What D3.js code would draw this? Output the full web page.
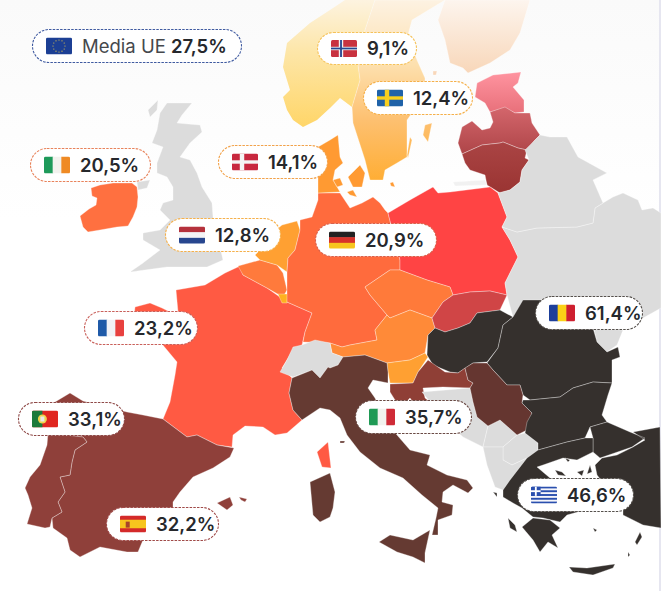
<!DOCTYPE html>
<html>
<head>
<meta charset="utf-8">
<script src="https://cdnjs.cloudflare.com/ajax/libs/d3/7.8.5/d3.min.js"></script>
<style>
  html, body { margin: 0; padding: 0; background: #fff; }
  svg { display: block; }
  text { font-family: Inter, "Noto Sans", sans-serif; }
</style>
</head>
<body>
<div id="map"></div>
<script>
// values, % per country
const countryNames = ["Norway", "Sweden", "Denmark", "Ireland", "Netherlands", "Germany", "France", "Portugal", "Spain", "Italy", "Romania", "Greece"];
const countryValues = [9.1, 12.4, 14.1, 20.5, 12.8, 20.9, 23.2, 33.1, 32.2, 35.7, 61.4, 46.6];
const euLabel = "Media UE";
const euValue = 27.5;
// countries with a colour but no badge
const otherNames = ["Finland", "Estonia", "Latvia", "Lithuania", "Poland", "Belgium", "Luxembourg", "Czechia", "Austria", "Slovenia", "Slovakia", "Hungary", "Croatia", "Serbia", "Bulgaria", "Turkey"];
const otherColors = ["url(#gradFinland)", "url(#gradEstonia)", "url(#gradLatvia)", "url(#gradLithuania)", "#ff4444", "#ff7a3c", "#ffb120", "#ff7a3a", "#ff8a38", "#ffa032", "#d04546", "#35302d", "#8f3f36", "#653630", "#35302d", "#35302d"];
const countryColors = ["url(#gradNorway)", "url(#gradSweden)", "#ff9a32", "#ff7040", "#ffa032", "#ff6b3d", "#ff5a43", "#8f403a", "#8f403a", "#653a32", "#35302d", "#35302d"];
const grayNames = ["UK", "Balkans", "Kosovo", "Macedonia", "Albania", "Switzerland", "Belarus", "Ukraine", "Moldova", "Kaliningrad"];

// outlines in map units (multi part countries have several rings)
const outlines = {
  UK: [[[167,103],[192,103],[182,115],[177,123],[200,125],[202,132],[190,143],[180,157],[190,160],[197,173],[202,187],[212,203],[213,217],[223,260],[207,267],[167,267],[130,272],[143,263],[160,250],[143,240],[143,233],[160,230],[170,220],[160,210],[163,203],[173,200],[173,187],[167,177],[157,173],[157,163],[163,147],[152,143],[157,130],[160,113]],
       [[137,182],[150,180],[147,188],[138,190]], [[148,110],[158,100],[157,110],[150,117]]],
  Ireland: [[[91,188],[100,185],[113,183],[132,183],[137,187],[138,197],[137,207],[133,217],[128,226],[117,227],[100,230],[88,232],[83,227],[80,216],[89,209],[96,205],[97,198],[92,196]]],
  France: [[[135,307],[150,303],[162,308],[170,312],[178,312],[176,290],[205,285],[225,273],[240,266],[243,275],[267,288],[287,302],[312,313],[305,332],[302,345],[293,350],[282,368],[292,378],[289,393],[293,410],[302,420],[287,433],[275,435],[263,427],[245,426],[233,435],[232,447],[217,445],[197,435],[187,437],[163,419],[170,402],[175,375],[177,362],[167,350],[157,338],[133,328]],
           [[317,452],[328,442],[331,468],[322,467]]],
  Spain: [[[50,405],[70,393],[83,401],[127,412],[143,415],[163,419],[187,437],[197,435],[217,445],[234,448],[230,457],[213,468],[193,477],[180,492],[173,502],[173,520],[143,540],[138,552],[127,552],[100,547],[80,557],[70,550],[67,538],[53,528],[52,518],[62,512],[58,502],[65,492],[60,477],[70,475],[72,462],[75,450],[87,442],[83,437],[48,435]],
          [[217,503],[230,497],[233,505],[227,510]], [[239,497],[247,499],[245,502],[241,500]]],
  Portugal: [[[48,433],[83,437],[87,442],[75,450],[72,462],[70,475],[60,477],[65,492],[58,502],[62,512],[52,518],[50,527],[45,528],[27,524],[32,508],[28,495],[25,488],[30,477],[40,465],[47,445]]],
  Belgium: [[[238,266],[260,260],[277,265],[283,273],[287,290],[283,297],[267,288],[243,275]]],
  Luxembourg: [[[278,294],[288,294],[287,303],[282,303]]],
  Netherlands: [[[282,225],[297,221],[300,230],[295,250],[288,258],[287,272],[277,265],[260,260],[255,255],[265,245],[270,235]]],
  Germany: [[[300,220],[312,217],[318,200],[318,193],[340,193],[350,208],[362,203],[373,197],[380,203],[385,210],[388,213],[400,260],[400,270],[390,270],[365,287],[370,295],[387,315],[375,330],[377,340],[350,345],[342,347],[330,343],[303,342],[305,332],[312,313],[287,302],[287,272],[288,258],[295,250],[300,230]]],
  Denmark: [[[318,147],[330,140],[338,135],[340,157],[343,163],[335,170],[333,180],[340,192],[318,193]],
            [[348,177],[360,165],[365,173],[362,187],[353,187]], [[333,180],[340,178],[343,185],[337,187]], [[347,192],[353,190],[357,197],[350,195]], [[390,183],[393,182],[395,187],[391,186]]],
  Norway: [[[345,0],[330,10],[310,23],[287,43],[283,67],[290,90],[283,97],[287,110],[293,120],[303,127],[317,120],[330,108],[340,98],[352,107],[360,80],[358,65],[365,30],[375,0]]],
  Sweden: [[[375,0],[365,30],[358,65],[360,80],[352,107],[353,123],[365,160],[370,180],[383,180],[385,170],[397,163],[407,157],[407,120],[425,95],[425,78],[417,60],[408,35],[412,20],[445,0]],
           [[425,125],[432,123],[428,142],[423,135]], [[410,137],[412,140],[408,158],[407,155]]],
  Finland: [[[530,0],[520,33],[510,50],[490,63],[468,73],[463,68],[450,63],[445,40],[438,20],[445,0]], [[433,71],[437,71],[436,75],[433,75]]],
  Estonia: [[[477,83],[493,75],[521,72],[518,83],[513,87],[524,100],[524,112],[515,113],[505,108],[490,112],[485,103],[475,97]]],
  Latvia: [[[490,112],[505,107],[515,113],[530,113],[532,123],[540,135],[535,140],[527,150],[518,148],[503,142],[500,143],[482,145],[462,154],[458,143],[462,127],[472,121],[482,130],[490,128],[493,122]]],
  Lithuania: [[[462,154],[482,145],[500,143],[503,142],[518,148],[527,150],[525,158],[529,160],[522,170],[520,182],[510,190],[500,193],[487,185],[485,175],[470,170],[465,163]]],
  Kaliningrad: [[[453,182],[485,180],[487,185],[455,186]]],
  Poland: [[[388,213],[410,200],[433,187],[438,193],[450,192],[490,187],[498,193],[507,217],[502,227],[510,240],[518,257],[505,283],[507,295],[490,291],[470,292],[453,295],[450,287],[427,280],[400,270],[400,260]]],
  Czechia: [[[365,287],[390,270],[400,270],[427,280],[450,287],[453,295],[443,302],[432,318],[410,310],[390,318],[387,315],[370,295]]],
  Austria: [[[390,318],[410,310],[432,318],[435,328],[428,335],[425,353],[410,360],[387,363],[365,355],[343,357],[332,353],[330,343],[342,347],[350,345],[377,340],[375,330],[387,315]]],
  Slovenia: [[[387,363],[410,360],[425,353],[428,357],[418,372],[413,383],[398,383],[390,383],[388,372]]],
  Slovakia: [[[432,318],[443,302],[453,295],[470,292],[490,291],[507,295],[500,310],[477,313],[470,323],[458,328],[445,332],[435,328]]],
  Hungary: [[[435,328],[445,332],[458,328],[470,323],[477,313],[500,310],[513,317],[503,325],[498,348],[487,362],[473,363],[458,373],[450,372],[433,365],[427,355],[428,335]]],
  Moldova: [[[593,325],[623,330],[617,345],[607,352],[597,342]]],
  Ukraine: [[[517,232],[537,228],[577,227],[593,223],[595,208],[603,203],[613,197],[623,193],[638,200],[642,210],[653,208],[661,213],[661,308],[643,318],[623,330],[593,328],[523,315],[513,317],[507,295],[505,283],[518,257],[510,240],[502,227]]],
  Romania: [[[513,317],[523,300],[593,300],[593,328],[597,342],[607,352],[618,347],[620,357],[612,360],[612,383],[593,382],[573,388],[560,397],[530,400],[523,395],[520,385],[507,385],[493,370],[487,363],[498,348],[503,325]]],
  Belarus: [[[529,160],[525,150],[540,135],[550,137],[567,137],[578,157],[607,173],[593,180],[603,203],[595,208],[593,223],[577,227],[537,228],[517,232],[502,227],[507,217],[498,193],[510,190],[520,182],[522,170]]],
  Switzerland: [[[280,372],[287,360],[293,347],[302,345],[315,340],[330,343],[332,353],[343,357],[338,365],[330,368],[328,367],[320,378],[312,370],[293,377]]],
  Italy: [[[292,378],[312,370],[320,378],[328,367],[330,368],[338,365],[343,357],[365,355],[387,363],[388,372],[388,383],[373,380],[368,388],[375,398],[385,420],[397,435],[410,450],[430,455],[427,465],[447,475],[467,480],[473,488],[468,493],[453,485],[443,492],[442,502],[453,505],[452,515],[438,520],[438,535],[432,535],[436,518],[438,508],[422,495],[403,478],[380,468],[360,452],[347,435],[340,418],[330,410],[320,408],[302,420],[293,410],[289,393]],
          [[379,542],[390,535],[413,540],[430,530],[425,553],[425,563],[413,557],[397,552]],
          [[310,482],[330,473],[335,492],[333,508],[330,517],[320,522],[313,515]],
          [[340,441],[345,441],[344,443],[340,443]]],
  Croatia: [[[390,384],[413,383],[418,372],[428,360],[445,372],[458,373],[465,368],[468,380],[473,383],[470,388],[443,387],[423,388],[425,398],[440,410],[468,437],[455,432],[430,415],[415,405],[410,398],[403,405],[395,400],[390,392]]],
  Balkans: [[[422,392],[470,388],[473,402],[477,417],[488,426],[483,447],[463,437],[445,420]]],
  Kosovo: [[[488,426],[500,420],[517,435],[503,447],[483,447]]],
  Macedonia: [[[503,447],[517,435],[525,433],[538,443],[538,450],[527,458],[512,465],[503,460]]],
  Albania: [[[483,447],[503,447],[503,460],[512,465],[527,458],[510,480],[503,490],[495,487],[487,465]]],
  Serbia: [[[465,368],[473,363],[487,363],[493,370],[507,385],[520,385],[523,395],[522,403],[532,413],[527,430],[517,435],[500,420],[488,426],[477,417],[473,402],[470,388],[473,383],[468,380]]],
  Bulgaria: [[[523,400],[530,400],[560,397],[573,388],[593,382],[612,383],[608,395],[602,415],[607,422],[590,427],[585,438],[567,442],[538,450],[538,443],[525,433],[527,422],[532,413],[522,403]]],
  Turkey: [[[607,422],[630,432],[645,438],[632,447],[600,458],[593,452],[593,438],[590,427]],
           [[633,432],[660,427],[661,528],[643,525],[623,515],[623,508],[597,475],[595,465],[602,458],[617,455],[633,447],[645,440]]],
  Greece: [[[527,458],[538,450],[567,442],[585,438],[593,438],[593,452],[577,460],[563,458],[543,465],[537,467],[550,478],[590,490],[585,510],[567,515],[560,522],[543,518],[533,517],[522,508],[513,503],[503,497],[503,490],[510,480]],
           [[522,527],[533,518],[550,520],[560,528],[552,535],[558,548],[548,542],[540,552],[533,540]],
           [[569,567],[587,568],[615,564],[613,568],[593,575],[573,572]],
           [[508,518],[515,525],[517,532],[510,528]], [[493,492],[497,493],[497,497]], [[565,458],[570,460],[568,462]],
           [[593,528],[597,530],[595,532]], [[640,532],[642,537],[637,545],[635,542]], [[628,552],[630,555],[628,557]],
           [[555,470],[562,472],[566,476],[558,475]], [[577,472],[584,470],[582,476]], [[590,465],[592,472],[587,474]]]
};

// badge layout: [left, top, width, height]
const badgeBoxes = {
  Norway: [317, 32, 100, 33], Sweden: [363, 81, 110, 34], Denmark: [218, 145, 110, 34], Ireland: [30, 148, 121, 34],
  Netherlands: [165, 218, 116, 34], Germany: [315, 223, 122, 34], France: [84, 311, 114, 34], Portugal: [18, 402, 107, 34],
  Spain: [106, 507, 113, 34], Italy: [355, 400, 117, 34], Romania: [535, 296, 108, 34], Greece: [517, 478, 117, 34]
};
const badgeStroke = ["#f5c25a", "#f5b04a", "#f2a24a", "#e8825a", "#f5b04a", "#d9604a", "#c9605a", "#8f4a48", "#a04a48", "#6a4a44", "#55504c", "#55504c"];

// flags as stripes, dir is "h" or "v"
const flagStripes = {
  Ireland: ["v", ["#1e9a5a", "#f2f2ee", "#ef8a24"]],
  Netherlands: ["h", ["#b5323c", "#f4f4f6", "#27468f"]],
  Germany: ["h", ["#222222", "#d8322a", "#f7c51e"]],
  France: ["v", ["#1f5aa8", "#f2f2f6", "#e8413f"]],
  Italy: ["v", ["#1f9a55", "#f2f2ee", "#cf2b37"]],
  Romania: ["v", ["#1d3f9a", "#fbd116", "#ce1f2f"]]
};

const width = 661;
const height = 591;

const svg = d3.select("#map")
  .append("svg")
  .attr("width", width)
  .attr("height", height);

const defs = svg.append("defs");

function addGradient(id, y1, y2, stops) {
  const g = defs.append("linearGradient")
    .attr("id", id)
    .attr("gradientUnits", "userSpaceOnUse")
    .attr("x1", 0).attr("x2", 0).attr("y1", y1).attr("y2", y2);
  stops.forEach(s => g.append("stop").attr("offset", s[0]).attr("stop-color", s[1]));
}
addGradient("gradNorway", 0, 130, [[0, "#fdf3e0"], [0.4, "#fde6a8"], [1, "#ffd566"]]);
addGradient("gradSweden", 0, 185, [[0, "#fdf2e2"], [0.35, "#fde0ae"], [0.65, "#fdc070"], [1, "#ffac30"]]);
addGradient("gradFinland", 0, 75, [[0, "#fdf5ee"], [1, "#f8d6b8"]]);
addGradient("gradEstonia", 72, 113, [[0, "#ff94a0"], [1, "#e8707a"]]);
addGradient("gradLatvia", 107, 154, [[0, "#d4666c"], [1, "#ae4548"]]);
addGradient("gradLithuania", 143, 193, [[0, "#aa4444"], [1, "#9a3432"]]);
addGradient("gradBg", 0, 220, [[0, "#fafafa"], [1, "#ffffff"]]);

svg.append("rect").attr("width", width).attr("height", 220).attr("fill", "url(#gradBg)");
svg.append("rect").attr("x", width - 2).attr("width", 2).attr("height", height).attr("fill", "#e6e6f0");

// map units are already page units, so the projection is an identity
const projection = d3.geoIdentity();
const path = d3.geoPath(projection);

const colorByName = new Map();
countryNames.forEach((n, i) => colorByName.set(n, countryColors[i]));
otherNames.forEach((n, i) => colorByName.set(n, otherColors[i]));
grayNames.forEach(n => colorByName.set(n, "#dcdcdc"));
colorByName.set("Kaliningrad", "#f1f1f1");

// GeoJSON rings have to be closed, the last point repeats the first
const features = Object.keys(outlines).map(name => ({
  type: "Feature",
  properties: { name },
  geometry: { type: "MultiPolygon", coordinates: outlines[name].map(r => [r.concat([r[0]])]) }
}));

svg.append("g").selectAll("path")
  .data(features)
  .enter()
  .append("path")
  .attr("d", path)
  .attr("fill", d => colorByName.get(d.properties.name))
  .attr("stroke", d => d.properties.name === "Norway" ? "none" : "#ffffff")
  .attr("stroke-opacity", 0.4)
  .attr("stroke-width", 0.8)
  .attr("stroke-linejoin", "round");

function fmt(v) {
  return d3.format(".1f")(v).replace(".", ",") + "%";
}

function drawFlag(g, name, x, y, w, h) {
  const f = g.append("g").attr("transform", `translate(${x},${y})`);
  const clipId = "clip" + name;
  defs.append("clipPath").attr("id", clipId).append("rect").attr("width", w).attr("height", h).attr("rx", 1.5);
  const body = f.append("g").attr("clip-path", `url(#${clipId})`);
  if (flagStripes[name]) {
    const [dir, cols] = flagStripes[name];
    const band = d3.scaleBand().domain(d3.range(cols.length)).range([0, dir === "v" ? w : h]);
    cols.forEach((c, i) => {
      if (dir === "v") body.append("rect").attr("x", band(i)).attr("width", band.bandwidth() + 0.5).attr("height", h).attr("fill", c);
      else body.append("rect").attr("y", band(i)).attr("width", w).attr("height", band.bandwidth() + 0.5).attr("fill", c);
    });
  } else if (name === "EU") {
    body.append("rect").attr("width", w).attr("height", h).attr("fill", "#1c3f94");
    d3.range(12).forEach(i => {
      body.append("circle")
        .attr("cx", w / 2 + 6 * Math.cos(i * Math.PI / 6))
        .attr("cy", h / 2 + 6 * Math.sin(i * Math.PI / 6))
        .attr("r", 0.6).attr("fill", "#e8c94a");
    });
  } else if (name === "Norway" || name === "Sweden" || name === "Denmark") {
    const base = { Norway: "#c8323f", Sweden: "#1f62a8", Denmark: "#c8283f" }[name];
    const cross = { Norway: "#f2f2f2", Sweden: "#f8cf1e", Denmark: "#f4f4f4" }[name];
    body.append("rect").attr("width", w).attr("height", h).attr("fill", base);
    body.append("rect").attr("x", w * 0.3).attr("width", w * 0.17).attr("height", h).attr("fill", cross);
    body.append("rect").attr("y", h * 0.4).attr("width", w).attr("height", h * 0.2).attr("fill", cross);
    if (name === "Norway") {
      body.append("rect").attr("x", w * 0.35).attr("width", w * 0.07).attr("height", h).attr("fill", "#27468f");
      body.append("rect").attr("y", h * 0.45).attr("width", w).attr("height", h * 0.1).attr("fill", "#27468f");
    }
  } else if (name === "Portugal") {
    body.append("rect").attr("width", w).attr("height", h).attr("fill", "#e0261f");
    body.append("rect").attr("width", w * 0.4).attr("height", h).attr("fill", "#1c7a3a");
    body.append("circle").attr("cx", w * 0.4).attr("cy", h / 2).attr("r", 4.5).attr("fill", "#f0d24a");
    body.append("rect").attr("x", w * 0.4 - 2).attr("y", h / 2 - 2.5).attr("width", 4).attr("height", 5).attr("fill", "#e8e8e8");
  } else if (name === "Spain") {
    body.append("rect").attr("width", w).attr("height", h).attr("fill", "#d42a2a");
    body.append("rect").attr("y", h * 0.25).attr("width", w).attr("height", h * 0.5).attr("fill", "#f7c51e");
    body.append("rect").attr("x", w * 0.22).attr("y", h * 0.36).attr("width", 4).attr("height", 6).attr("fill", "#a8442a");
  } else if (name === "Greece") {
    body.append("rect").attr("width", w).attr("height", h).attr("fill", "#f6f6fa");
    d3.range(5).forEach(i => body.append("rect").attr("y", i * h / 4.5).attr("width", w).attr("height", h / 9).attr("fill", "#2a4fae"));
    body.append("rect").attr("width", w * 0.37).attr("height", h * 0.55).attr("fill", "#2a4fae");
    body.append("rect").attr("x", w * 0.15).attr("width", w * 0.07).attr("height", h * 0.55).attr("fill", "#fff");
    body.append("rect").attr("y", h * 0.22).attr("width", w * 0.37).attr("height", h * 0.11).attr("fill", "#fff");
  }
}

function drawBadge(name, box, stroke, parts) {
  const [x, y, w, h] = box;
  const g = svg.append("g").attr("transform", `translate(${x},${y})`);
  g.append("rect")
    .attr("x", 0.5).attr("y", 0.5)
    .attr("width", w - 1).attr("height", h - 1)
    .attr("rx", (h - 1) / 2)
    .attr("fill", "#ffffff")
    .attr("stroke", stroke)
    .attr("stroke-width", 1.1)
    .attr("stroke-dasharray", "2.5 1.2");
  drawFlag(g, name, 14, h / 2 - 8.5, 26, 17);
  const t = g.append("text")
    .attr("x", 50)
    .attr("y", h / 2 + 6.5)
    .attr("font-size", 18.5)
    .attr("fill", "#26282c");
  parts.forEach(p => t.append("tspan").attr("font-weight", p[1]).attr("fill", p[2]).text(p[0]));
}

drawBadge("EU", [32, 29, 210, 34], "#3f5aa0", [[euLabel + " ", 400, "#45484c"], [fmt(euValue), 600, "#26282c"]]);
countryNames.forEach((n, i) => {
  drawBadge(n, badgeBoxes[n], badgeStroke[i], [[fmt(countryValues[i]), 600, "#26282c"]]);
});
</script>
</body>
</html>
